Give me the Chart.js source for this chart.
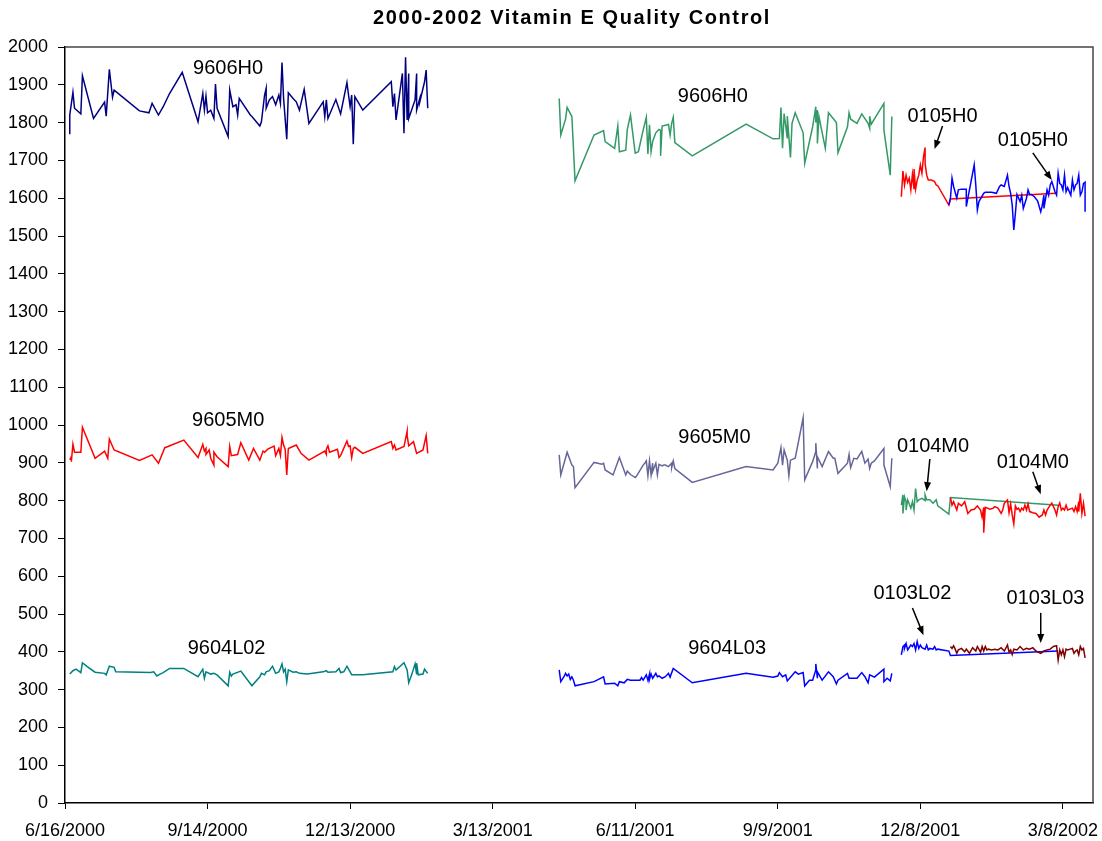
<!DOCTYPE html>
<html>
<head>
<meta charset="utf-8">
<script src="https://cdn.jsdelivr.net/npm/chart.js@4.4.1/dist/chart.umd.min.js"></script>
<style>
body{margin:0;background:#fff;}
canvas{display:block;}
</style>
</head>
<body>
<canvas id="qcChart" width="1102" height="841"></canvas>
<script>
// x values are days after 6/16/2000
const tickDays = [0, 90, 180, 270, 360, 450, 540, 630];
const tickLabels = ['6/16/2000', '9/14/2000', '12/13/2000', '3/13/2001', '6/11/2001', '9/9/2001', '12/8/2001', '3/8/2002'];

// 2000 lots
const days9606H0a = [3,3,5,6,10,11,18,25,26,28,30,31,47,53,55,59,62,66,74,84,87,88,89,90,92,94,95,96,103,104,106,108,109,110,117,118,123,124,126,127,127,129,131,133,135,136,137,138,140,141,144,146,148,151,154,163,164,165,166,171,174,178,179,180,181,182,183,188,206,207,208,209,213,214,215,216,217,217,221,222,222,224,224,227,228,229];
const vals9606H0a = [1769,1820,1880,1838,1823,1924,1811,1854,1817,1941,1867,1886,1831,1826,1851,1820,1842,1877,1933,1802,1877,1833,1870,1826,1833,1811,1902,1838,1763,1886,1842,1847,1820,1864,1820,1816,1791,1802,1873,1891,1838,1860,1869,1847,1873,1851,1959,1864,1756,1879,1864,1855,1833,1888,1798,1855,1816,1860,1811,1861,1823,1906,1873,1842,1873,1743,1869,1833,1908,1842,1877,1807,1930,1772,1973,1807,1930,1811,1860,1930,1833,1864,1855,1908,1939,1838];

const days9605M0a = [3,4,4,5,6,10,11,19,25,27,28,31,47,55,59,63,65,75,84,87,88,89,89,91,92,94,94,96,103,104,105,109,111,116,119,123,125,126,128,132,133,135,136,137,138,139,140,141,146,149,154,164,165,165,166,167,172,173,174,178,179,180,181,182,183,188,206,207,208,209,214,216,216,217,220,222,226,228,229];
const vals9605M0a = [908,916,903,949,928,928,994,912,931,912,963,934,906,921,899,940,943,960,914,949,931,938,922,934,912,894,928,916,890,943,919,922,953,907,938,907,931,928,936,944,919,938,919,967,947,936,868,938,947,925,907,931,922,936,945,928,936,914,919,958,943,945,914,938,941,925,956,938,947,934,943,984,972,945,956,925,934,972,925];

const days9604L02 = [3,5,7,10,11,14,19,25,26,28,31,32,54,56,58,60,62,66,75,84,87,88,89,92,94,96,103,104,105,106,111,118,123,124,126,127,129,131,133,135,136,137,138,139,140,141,144,146,148,153,163,165,166,171,173,174,176,178,180,181,188,207,208,209,214,216,217,219,221,222,222,223,226,227,229];
const vals9604L02 = [341,350,354,345,371,361,346,343,339,362,359,347,345,347,336,341,345,356,356,334,354,330,347,341,343,339,310,346,336,341,349,310,334,343,339,347,350,362,343,347,356,368,347,354,321,352,346,347,343,341,347,350,346,347,356,345,347,362,347,339,339,347,361,352,371,352,318,341,368,340,370,339,341,354,343];

// 2001 lots
const days9606H0b = [312,313,316,317,320,322,334,340,341,347,349,350,354,355,357,360,362,365,367,368,369,370,371,373,375,376,376,377,381,382,383,384,385,396,430,447,451,452,453,454,456,456,458,459,461,466,467,472,474,474,475,475,476,480,482,487,488,494,495,496,500,503,507,508,508,509,517,517,521,522];
const vals9606H0b = [1864,1767,1809,1840,1816,1646,1767,1779,1750,1732,1791,1723,1727,1782,1820,1719,1723,1780,1814,1717,1794,1723,1750,1773,1782,1780,1712,1791,1795,1767,1798,1814,1747,1712,1796,1757,1758,1840,1732,1824,1758,1817,1708,1798,1826,1773,1692,1789,1842,1800,1833,1745,1816,1732,1826,1800,1720,1789,1826,1809,1798,1823,1798,1785,1817,1796,1851,1780,1661,1816];

const days9605M0b = [312,313,317,320,321,322,334,339,340,341,346,350,354,355,357,360,361,365,366,367,368,369,370,371,371,373,374,375,377,378,379,381,383,383,384,385,396,430,447,450,452,453,454,456,457,458,461,466,467,472,474,474,475,475,478,482,485,486,488,494,495,496,498,500,503,505,507,508,509,511,517,517,521,522];
const vals9605M0b = [921,868,928,894,890,834,901,896,899,881,868,914,868,878,869,861,866,894,899,905,866,905,868,899,877,899,868,896,892,894,894,890,899,887,905,885,848,890,881,899,940,894,934,907,866,907,912,1019,855,903,930,952,885,916,890,930,912,912,872,899,922,887,912,910,930,899,910,885,899,905,938,894,837,912];

const days9604L03 = [312,313,315,316,317,318,319,320,321,322,334,340,341,347,349,350,353,355,357,361,363,364,365,367,368,369,369,370,371,373,374,375,377,379,381,382,384,396,430,447,450,451,453,455,456,461,463,466,467,470,472,474,474,475,475,478,482,485,487,488,494,495,500,503,505,507,508,511,517,517,519,521,522];
const vals9604L03 = [352,321,334,343,336,341,327,334,325,310,321,334,315,317,310,321,318,327,325,325,325,332,325,339,325,341,327,341,330,343,334,336,330,334,343,333,356,318,343,333,336,345,334,339,323,347,341,345,310,325,325,352,368,330,347,325,347,334,315,325,343,330,330,345,334,318,339,333,354,321,330,323,343];

// 2001/2002 lots
const days0105H0a = [528,529,530,531,532,533,534,535,536,536,537,538,539,540,541,542,543,543,544,545,547,549,550,551,558,559,626];
const vals0105H0a = [1604,1672,1635,1661,1642,1653,1622,1663,1624,1677,1624,1648,1661,1688,1666,1710,1734,1692,1661,1648,1648,1644,1635,1633,1582,1598,1613];

const days0105H0b = [558,559,560,561,563,564,566,569,569,570,572,574,575,576,577,580,581,585,588,590,591,593,595,596,597,598,599,600,601,603,604,605,607,608,609,610,612,614,616,617,618,618,620,621,622,623,625,626,627,628,629,630,631,632,633,635,636,637,638,639,640,641,642,643,644,644];
const vals0105H0b = [1582,1600,1653,1631,1600,1622,1624,1624,1578,1600,1644,1688,1635,1569,1591,1613,1616,1616,1613,1631,1635,1631,1661,1631,1613,1582,1516,1560,1610,1591,1608,1573,1600,1622,1610,1610,1604,1593,1564,1582,1608,1573,1622,1608,1635,1644,1617,1608,1666,1639,1635,1622,1661,1617,1628,1608,1648,1622,1635,1639,1661,1608,1617,1639,1642,1564];

const days0104M0a = [528,529,529,530,531,531,532,534,535,536,537,538,539,541,543,543,544,546,548,550,551,558,559,627];
const vals0104M0a = [788,815,766,810,797,775,802,780,797,775,832,797,802,806,800,815,802,802,793,802,786,764,808,788];

const days0104M0b = [559,560,561,563,564,566,568,570,572,574,576,578,579,580,580,581,584,586,587,589,591,592,593,595,596,597,598,599,600,601,602,603,604,605,606,607,608,609,611,613,615,617,618,619,620,622,623,625,626,627,628,629,630,631,632,633,636,637,638,639,640,640,641,642,643,644];
const vals0104M0b = [808,788,797,775,793,786,797,766,775,777,786,775,756,782,715,782,777,780,784,780,766,775,793,802,768,791,762,738,786,777,780,771,780,775,788,775,791,771,768,766,756,762,775,762,775,788,793,775,762,784,794,775,780,775,788,775,780,771,784,771,797,771,819,766,793,759];

const days0103L02 = [528,529,530,530,531,532,534,535,536,537,538,539,540,541,543,544,545,546,548,549,550,551,558,559,627];
const vals0103L02 = [392,414,418,409,422,405,418,414,422,405,427,409,418,411,407,418,405,409,407,414,405,407,402,390,402];

const days0103L03 = [559,560,561,562,563,564,566,568,569,571,573,575,576,578,579,580,581,582,583,585,587,589,591,593,595,596,597,598,599,601,603,605,607,609,611,613,616,618,620,622,624,626,627,628,629,630,631,632,633,636,637,638,639,640,641,642,643,644];
const vals0103L03 = [414,409,416,407,396,405,409,400,407,396,411,402,414,399,414,402,414,405,407,405,407,405,411,402,418,399,405,393,407,405,414,405,409,407,411,402,396,402,405,407,414,416,378,405,392,405,387,407,405,409,396,402,405,392,414,405,409,384];

// labels and arrows, in data units (day, value)
const noteTexts = ['9606H0', '9605M0', '9604L02', '9606H0', '9605M0', '9604L03', '0105H0', '0105H0', '0104M0', '0104M0', '0103L02', '0103L03'];
const noteDays = [103, 103, 102, 409, 410, 418, 554, 611, 548, 611, 535, 619];
const noteVals = [1944, 1011, 410, 1868, 968, 410, 1815, 1754, 942, 902, 553, 542];
const arrowFrom = [[554, 1791], [611, 1720], [546, 910], [611, 876], [535, 516], [616, 503]];
const arrowTo = [[549, 1730], [623, 1648], [544, 825], [616, 817], [542, 444], [616, 423]];

const chartTitle = '2000-2002 Vitamin E Quality Control';
const FONT = "'Liberation Sans', Arial, sans-serif";

function pts(days, vals) {
    return days.map((d, i) => ({ x: d, y: vals[i] }));
}

const datasets = [
    { label: '9606H0', data: pts(days9606H0a, vals9606H0a), borderColor: '#000080' },
    { label: '9605M0', data: pts(days9605M0a, vals9605M0a), borderColor: '#ff0000' },
    { label: '9604L02', data: pts(days9604L02, vals9604L02), borderColor: '#008080' },
    { label: '9606H0', data: pts(days9606H0b, vals9606H0b), borderColor: '#339966' },
    { label: '9605M0', data: pts(days9605M0b, vals9605M0b), borderColor: '#666699' },
    { label: '9604L03', data: pts(days9604L03, vals9604L03), borderColor: '#0000ff' },
    { label: '0105H0', data: pts(days0105H0b, vals0105H0b), borderColor: '#0000ff' },
    { label: '0105H0', data: pts(days0105H0a, vals0105H0a), borderColor: '#ff0000' },
    { label: '0104M0', data: pts(days0104M0b, vals0104M0b), borderColor: '#ff0000' },
    { label: '0104M0', data: pts(days0104M0a, vals0104M0a), borderColor: '#339966' },
    { label: '0103L03', data: pts(days0103L03, vals0103L03), borderColor: '#800000' },
    { label: '0103L02', data: pts(days0103L02, vals0103L02), borderColor: '#0000ff' }
].map(ds => Object.assign({ borderWidth: 1.5, pointRadius: 0, fill: false, tension: 0 }, ds));

// box, title, labels and arrows
const extras = {
    id: 'extras',
    afterDatasetsDraw(chart) {
        const c = chart.ctx;
        const a = chart.chartArea;
        const xs = chart.scales.x, ys = chart.scales.y;
        c.save();
        c.strokeStyle = '#444';
        c.lineWidth = 1.5;
        c.beginPath();
        c.moveTo(a.left, a.top);
        c.lineTo(a.right, a.top);
        c.lineTo(a.right, a.bottom);
        c.stroke();

        c.fillStyle = '#000';
        c.font = 'bold 20px ' + FONT;
        c.textAlign = 'center';
        c.textBaseline = 'middle';
        c.letterSpacing = '1.6px';
        c.fillText(chartTitle, 572, 18);
        c.letterSpacing = '0px';

        c.font = '20px ' + FONT;
        noteTexts.forEach((t, i) => {
            c.fillText(t, xs.getPixelForValue(noteDays[i]), ys.getPixelForValue(noteVals[i]));
        });

        c.strokeStyle = '#000';
        c.lineWidth = 1.5;
        arrowFrom.forEach((f, i) => {
            const x1 = xs.getPixelForValue(f[0]), y1 = ys.getPixelForValue(f[1]);
            const x2 = xs.getPixelForValue(arrowTo[i][0]), y2 = ys.getPixelForValue(arrowTo[i][1]);
            const ang = Math.atan2(y2 - y1, x2 - x1);
            c.beginPath();
            c.moveTo(x1, y1);
            c.lineTo(x2 - 6 * Math.cos(ang), y2 - 6 * Math.sin(ang));
            c.stroke();
            c.beginPath();
            c.moveTo(x2, y2);
            c.lineTo(x2 - 9 * Math.cos(ang) + 3.5 * Math.sin(ang), y2 - 9 * Math.sin(ang) - 3.5 * Math.cos(ang));
            c.lineTo(x2 - 9 * Math.cos(ang) - 3.5 * Math.sin(ang), y2 - 9 * Math.sin(ang) + 3.5 * Math.cos(ang));
            c.closePath();
            c.fill();
        });
        c.restore();
    }
};

new Chart(document.getElementById('qcChart'), {
    type: 'line',
    data: { datasets: datasets },
    options: {
        responsive: false,
        animation: false,
        layout: { padding: { top: 47, right: 9, left: 0, bottom: 0 } },
        plugins: {
            legend: { display: false },
            title: { display: false },
            tooltip: { enabled: false }
        },
        scales: {
            x: {
                type: 'linear',
                min: 0,
                max: 649,
                afterBuildTicks: function(scale) {
                    scale.ticks = tickDays.map(v => ({ value: v }));
                },
                afterFit: function(scale) {
                    scale.height = 38;
                    scale.paddingLeft = 0;
                    scale.paddingRight = 0;
                },
                ticks: {
                    autoSkip: false,
                    maxRotation: 0,
                    padding: 11,
                    color: '#000',
                    font: { family: FONT, size: 18 },
                    callback: function(v) { return tickLabels[tickDays.indexOf(v)]; }
                },
                grid: { display: true, drawOnChartArea: false, drawTicks: true, tickLength: 6, color: '#000' },
                border: { display: true, color: '#000', width: 1.5 }
            },
            y: {
                min: 0,
                max: 2000,
                afterFit: function(scale) {
                    scale.width = 65;
                    scale.paddingTop = 0;
                    scale.paddingBottom = 0;
                },
                ticks: {
                    stepSize: 100,
                    padding: 10,
                    color: '#000',
                    font: { family: FONT, size: 18 },
                    callback: function(v) { return String(v); }
                },
                grid: { display: true, drawOnChartArea: false, drawTicks: true, tickLength: 7, color: '#000' },
                border: { display: true, color: '#000', width: 1.5 }
            }
        }
    },
    plugins: [extras]
});
</script>
</body>
</html>
